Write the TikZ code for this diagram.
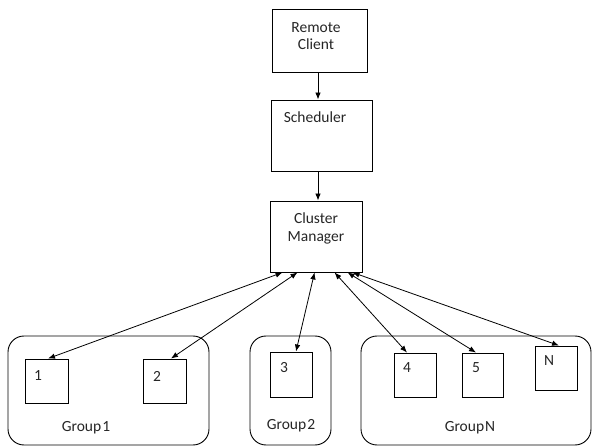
\documentclass[tikz,border=0pt]{standalone}
\usepackage{fontspec}
\setmainfont{Carlito}
\usetikzlibrary{arrows.meta}
\begin{document}
\begin{tikzpicture}[x=1pt,y=-1pt,
  every node/.style={font=\fontsize{15.5}{18}\selectfont, text=black!85},
  box/.style={draw, line width=0.9pt, inner sep=0pt, minimum width=#1},
  grp/.style={draw, line width=0.9pt, rounded corners=16pt},
  link/.style={line width=0.8pt, {Latex[length=7pt,width=5.5pt]}-{Latex[length=7pt,width=5.5pt]}},
  flow/.style={line width=0.8pt, -{Latex[length=7pt,width=5.5pt]}}]
\useasboundingbox (0,0) rectangle (592,446);

% main chain
\node[box=95pt, minimum height=63pt] (rc) at (319.5,40.5) {};
\node[align=center] (rct) at (316,36) {Remote\\[-1pt]Client};
\node[box=101pt, minimum height=71pt] (sch) at (321.5,135.5) {};
\node (scht) at (315,117) {Scheduler};
\node[box=92pt, minimum height=71pt] (cm) at (316,236.5) {};
\node[align=center] (cmt) at (316,228) {Cluster\\[0pt]Manager};

\draw[flow] (rc.south -| 318,0) -- (sch.north -| 318,0);
\draw[flow] (sch.south -| 318,0) -- (cm.north -| 318,0);

% groups
\draw[grp] (8,336) rectangle (209,445);
\draw[grp] (250,336) rectangle (331,445);
\draw[grp] (361,336) rectangle (591,445);
\node (g1) at (86,428) {Group\kern1pt1};
\node (g2) at (291,426) {Group\kern1pt2};
\node (gn) at (470,428) {Group\kern1ptN};

% worker boxes
\node[box=43pt, minimum height=44pt] (b1) at (46.5,381) {};
\node[box=43pt, minimum height=44pt] (b2) at (164.5,381) {};
\node[box=42pt, minimum height=45pt] (b3) at (291,374.5) {};
\node[box=42pt, minimum height=44pt] (b4) at (415,375) {};
\node[box=41pt, minimum height=44pt] (b5) at (482.5,375) {};
\node[box=42pt, minimum height=44pt] (bn) at (556,368) {};
\node (l1) at (38,376) {1};
\node (l2) at (157,376) {2};
\node (l3) at (284,368) {3};
\node (l4) at (407,368) {4};
\node (l5) at (476,368) {5};
\node (ln) at (549,361) {N};

% links to the cluster manager
\draw[link] ([xshift=1.5pt]b1.north) -- ([xshift=13pt]cm.south west);
\draw[link] ([xshift=6.5pt]b2.north) -- ([xshift=28pt]cm.south west);
\draw[link] ([xshift=5pt]b3.north) -- ([xshift=45pt]cm.south west);
\draw[link] ([xshift=-8pt]b4.north) -- ([xshift=65pt]cm.south west);
\draw[link] ([xshift=-6.5pt]b5.north) -- ([xshift=78pt]cm.south west);
\draw[link] ([xshift=3pt]bn.north) -- ([xshift=83pt]cm.south west);
\end{tikzpicture}
\end{document}
